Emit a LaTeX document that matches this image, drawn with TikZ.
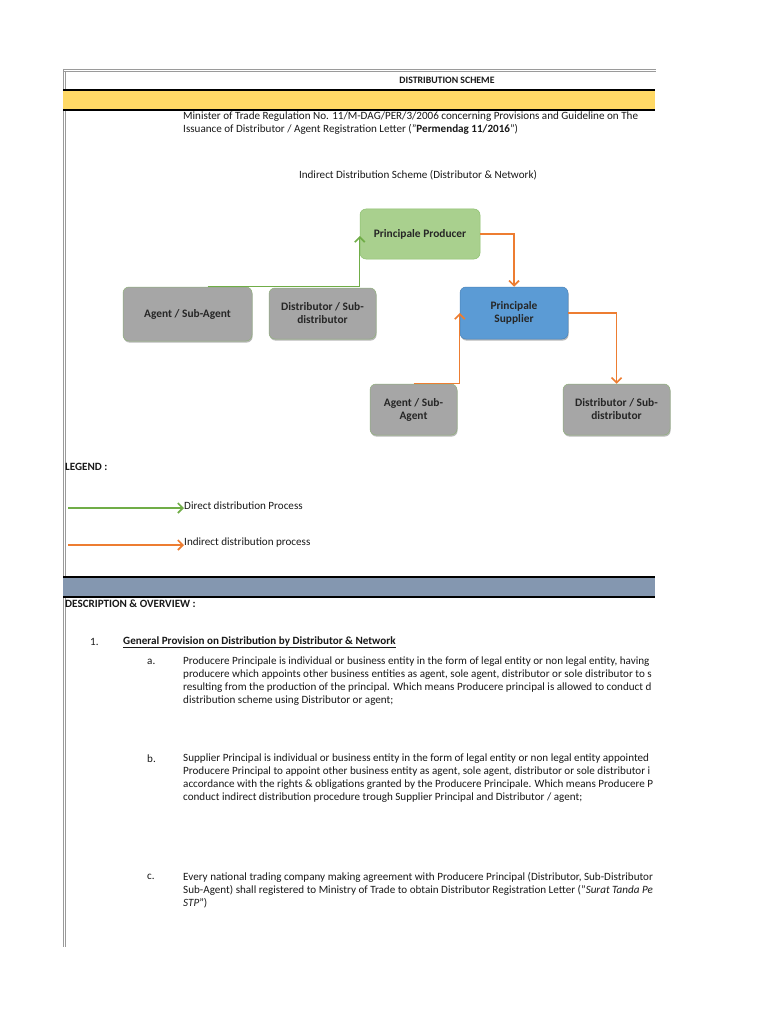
\documentclass[tikz,border=0pt]{standalone}
\usepackage{fontspec}
\setmainfont{Carlito}
\usetikzlibrary{arrows.meta,positioning,shadows}

\definecolor{bandyellow}{HTML}{FFD966}
\definecolor{bandblue}{HTML}{8497B0}
\definecolor{framegrey}{HTML}{9A9A9A}
\definecolor{prodgreen}{HTML}{A9D08E}
\definecolor{prodedge}{HTML}{8CBF6E}
\definecolor{boxgrey}{HTML}{A6A6A6}
\definecolor{boxedge}{HTML}{8FB07A}
\definecolor{supblue}{HTML}{5B9BD5}
\definecolor{supedge}{HTML}{4A82B8}
\definecolor{directgreen}{HTML}{70AD47}
\definecolor{indirectorange}{HTML}{ED7D31}

\begin{document}
\begin{tikzpicture}[x=1pt, y=-1pt,
  every node/.style={font=\fontsize{11.1}{13}\selectfont, inner sep=0pt, text=black!90},
  box/.style={draw=boxedge, line width=0.5pt, rounded corners=6pt, align=center,
    font=\fontsize{11.4}{13}\selectfont\bfseries, text=black!85},
  greybox/.style={box, fill=boxgrey,
    drop shadow={shadow xshift=0.6pt, shadow yshift=-1.6pt, opacity=0.55}},
  direct/.style={draw=directgreen, line width=1.2pt, -{Straight Barb[length=5pt,width=10pt,line width=1.6pt]}},
  indirect/.style={draw=indirectorange, line width=1.2pt, -{Straight Barb[length=5pt,width=10pt,line width=1.6pt]}},
  bold/.style={font=\fontsize{11.1}{13}\selectfont\bfseries}]
\useasboundingbox[fill=white] (0,0) rectangle (768,1024);

% sheet frame and bands
\draw[framegrey, line width=0.7pt] (63,69) -- (656,69);
\draw[framegrey, line width=0.7pt] (63,71.5) -- (656,71.5);
\draw[framegrey, line width=0.7pt] (63,69) -- (63,947);
\draw[framegrey, line width=0.7pt] (65.5,71.5) -- (65.5,947);
\fill[bandyellow] (63,90) rectangle (655,110);
\draw[line width=1.8pt] (63,90) -- (655,90);
\draw[line width=1.8pt] (63,110) -- (655,110);
\fill[bandblue] (63,577) rectangle (655,597);
\draw[line width=1.8pt] (63,577) -- (655,577);
\draw[line width=1.8pt] (63,597) -- (655,597);

% header
\node[font=\fontsize{9.8}{12}\selectfont\bfseries] (ttl) at (447,80) {DISTRIBUTION SCHEME};
\node[anchor=north west, align=left] (reg) at (183,112)
  {Minister of Trade Regulation No. 11/M-DAG/PER/3/2006 concerning Provisions and Guideline on The\\
   Issuance of Distributor / Agent Registration Letter ("\textbf{Permendag 11/2016}")};
\node (sch) at (418,175) {Indirect Distribution Scheme (Distributor \& Network)};

% scheme
\node[box, fill=prodgreen, draw=prodedge, minimum width=120pt, minimum height=50pt] (pp) at (420,234) {Principale Producer};
\node[greybox, minimum width=129pt, minimum height=54pt] (as1) at (187.5,314) {Agent / Sub-Agent};
\node[greybox, minimum width=107pt, minimum height=51pt] (ds1) at (322.5,313.5) {Distributor / Sub-\\distributor};
\node[box, fill=supblue, draw=supedge, minimum width=108pt, minimum height=52pt,
  drop shadow={shadow xshift=0.6pt, shadow yshift=-1.6pt, opacity=0.55}] (ps) at (514,313) {Principale\\Supplier};
\node[greybox, minimum width=87pt, minimum height=51pt] (as2) at (413.5,409.5) {Agent / Sub-\\Agent};
\node[greybox, minimum width=107pt, minimum height=51pt] (ds2) at (616.5,409.5) {Distributor / Sub-\\distributor};

\draw[direct] ([xshift=20pt]as1.north) -| ([yshift=-2pt]pp.west);
\draw[indirect] (pp.east) -| (ps.north);
\draw[indirect] (as2.north) -| (ps.west);
\draw[indirect] (ps.east) -| (ds2.north);

% legend
\node[bold, anchor=west] (lgd) at (65,467) {LEGEND :};
\node[anchor=west] (ltd) at (184,506) {Direct distribution Process};
\node[anchor=west] (lti) at (184,543) {Indirect distribution process};
\coordinate (lsd) at (68,508);
\coordinate (lsi) at (68,545);
\draw[direct] (lsd) -- (lsd -| ltd.west);
\draw[indirect] (lsi) -- (lsi -| lti.west);

% description
\node[bold, anchor=west] (dsc) at (65,604) {DESCRIPTION \& OVERVIEW :};
\node[anchor=west] (n1) at (90,642) {1.};
\node[bold, anchor=west] (h1) at (123,642) {\underline{General Provision on Distribution by Distributor \& Network}};
\node[anchor=west] (ia) at (147,662) {a.};
\node[anchor=west] (ib) at (147,759) {b.};
\node[anchor=west] (ic) at (147,877) {c.};

\begin{scope}
\clip (0,0) rectangle (657,1024);
\node[anchor=north west, align=left] (ta) at (183,657)
  {Producere Principale is individual or business entity in the form of legal entity or non legal entity, having\\
   producere which appoints other business entities as agent, sole agent, distributor or sole distributor to s\\
   resulting from the production of the principal. Which means Producere principal is allowed to conduct d\\
   distribution scheme using Distributor or agent;};
\node[anchor=north west, align=left] (tb) at (183,754)
  {Supplier Principal is individual or business entity in the form of legal entity or non legal entity appointed\\
   Producere Principal to appoint other business entity as agent, sole agent, distributor or sole distributor i\\
   accordance with the rights \& obligations granted by the Producere Principale. Which means Producere P\\
   conduct indirect distribution procedure trough Supplier Principal and Distributor / agent;};
\node[anchor=north west, align=left] (tc) at (183,872)
  {Every national trading company making agreement with Producere Principal (Distributor, Sub-Distributor\\
   Sub-Agent) shall registered to Ministry of Trade to obtain Distributor Registration Letter ("\textit{Surat Tanda Pe}\\
   \textit{STP}")};
\end{scope}
\end{tikzpicture}
\end{document}
